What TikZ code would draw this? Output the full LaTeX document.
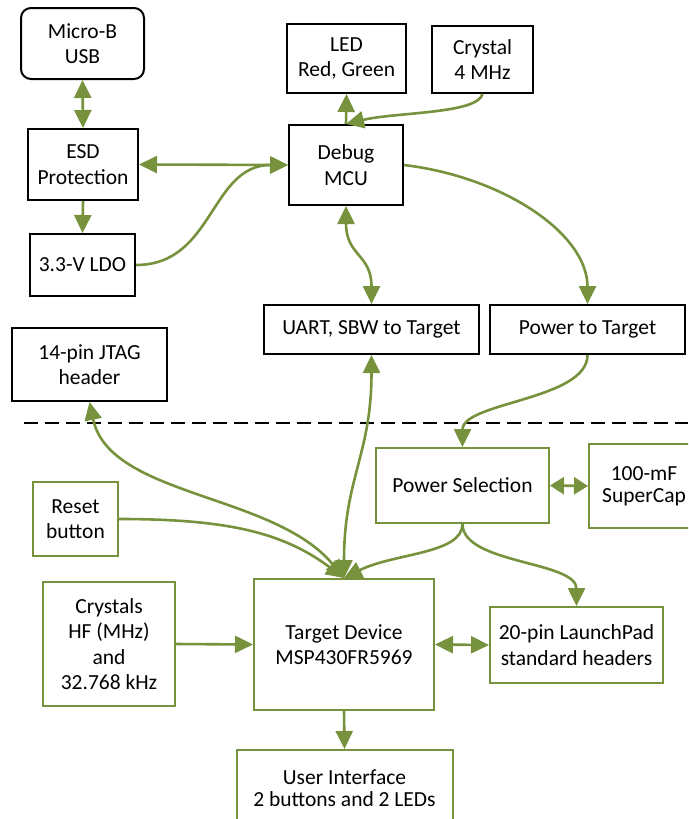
\documentclass[tikz,border=0pt]{standalone}
\usepackage{fontspec}
\setmainfont{Carlito}
\usetikzlibrary{arrows.meta}
\definecolor{olive}{RGB}{118,146,60}
\tikzset{
  blk/.style={draw=black, line width=2pt, align=center, inner sep=0pt,
    font=\fontsize{21.5}{25.5}\selectfont},
  grn/.style={draw=olive, line width=2pt, align=center, inner sep=0pt,
    font=\fontsize{21.5}{25.5}\selectfont},
  conn/.style={draw=olive, line width=2.6pt},
  tip/.tip={Triangle[length=18pt,width=17pt]},
  stip/.tip={Triangle[length=14pt,width=17pt]},
  one/.style={conn, -tip},
  two/.style={conn, tip-tip},
  twoshort/.style={conn, stip-stip},
}
\begin{document}
\begin{tikzpicture}[x=1pt,y=-1pt]
\useasboundingbox (0,0) rectangle (688,819);
\clip (0,0) rectangle (688,819);
\fill[white] (0,0) rectangle (688,819);
% top section
\node[blk, rounded corners=10pt, minimum width=123pt, minimum height=71pt] (usb) at (82.5,43.5) {Micro-B\\USB};
\node[blk, minimum width=110pt, minimum height=71pt] (esd) at (83,164.5) {ESD\\Protection};
\node[blk, minimum width=105pt, minimum height=62pt] (ldo) at (82.5,265) {3.3-V LDO};
\node[blk, minimum width=119pt, minimum height=69pt] (led) at (346.5,58.5) {LED\\Red, Green};
\node[blk, minimum width=101pt, minimum height=67pt] (xtal) at (482.5,59.5) {Crystal\\4 MHz};
\node[blk, minimum width=114pt, minimum height=80pt] (dbg) at (346,165) {Debug\\MCU};
\node[blk, minimum width=215pt, minimum height=49pt] (uart) at (371.5,329.5) {UART, SBW to Target};
\node[blk, minimum width=195pt, minimum height=49pt] (pwrt) at (587.5,329.5) {Power to Target};
\node[blk, minimum width=155pt, minimum height=73pt] (jtag) at (89.5,364.5) {14-pin JTAG\\header};
% divider
\coordinate (dl) at (24,423);
\coordinate (dr) at (688,423);
\draw[black, line width=2.8pt, dash pattern=on 14pt off 7pt] (dl) -- (dr);
% bottom section
\node[grn, minimum width=173pt, minimum height=75pt] (psel) at (462.5,485.5) {Power Selection};
\node[grn, minimum width=110pt, minimum height=84pt, font=\fontsize{21.5}{21.5}\selectfont] (cap) at (644,486) {100-mF\\SuperCap};
\node[grn, minimum width=85pt, minimum height=74pt] (rst) at (75.5,519) {Reset\\button};
\node[grn, minimum width=132pt, minimum height=124pt] (xtals) at (109,644) {Crystals\\HF (MHz)\\and\\32.768 kHz};
\node[grn, minimum width=180pt, minimum height=131pt] (tgt) at (344,644.5) {Target Device\\MSP430FR5969};
\node[grn, minimum width=173pt, minimum height=76pt] (lp) at (576.5,645) {20-pin LaunchPad\\standard headers};
\node[grn, minimum width=216pt, minimum height=76pt, font=\fontsize{21.5}{22}\selectfont] (ui) at (344.5,788) {User Interface\\2 buttons and 2 LEDs};
% connectors, top
\draw[two] (usb.south) -- (esd.north);
\draw[two] (esd.east) -- (dbg.west);
\draw[one] (esd.south) -- (ldo.north);
\draw[one] (ldo.east) .. controls +(78,0) and +(-78,0) .. (dbg.west);
\draw[one] (dbg.north) -- (led.south);
\draw[one] (xtal.south) .. controls +(-5,20) and +(50,-12) .. (dbg.north);
\draw[two] (dbg.south) .. controls +(0,50) and +(0,-50) .. (uart.north);
\draw[one] (dbg.east) .. controls +(100,12) and +(0,-70) .. (pwrt.north);
\draw[one] (pwrt.south) .. controls +(0,45) and +(0,-45) .. (psel.north);
% connectors, bottom
\draw[two] (uart.south) .. controls +(0,100) and +(0,-100) .. (tgt.north);
\draw[two] (jtag.south) .. controls +(20,95) and +(-70,-85) .. (tgt.north);
\draw[one] (rst.east) .. controls +(110,0) and +(-60,-45) .. (tgt.north);
\draw[one] (psel.south) .. controls +(0,30) and +(50,-25) .. (tgt.north);
\draw[one] (psel.south) .. controls +(0,40) and +(0,-45) .. (lp.north);
\draw[twoshort] (psel.east) -- (cap.west);
\draw[one] (xtals.east) -- (tgt.west);
\draw[two] (tgt.east) -- (lp.west);
\draw[one] (tgt.south) -- (ui.north);
\end{tikzpicture}
\end{document}
